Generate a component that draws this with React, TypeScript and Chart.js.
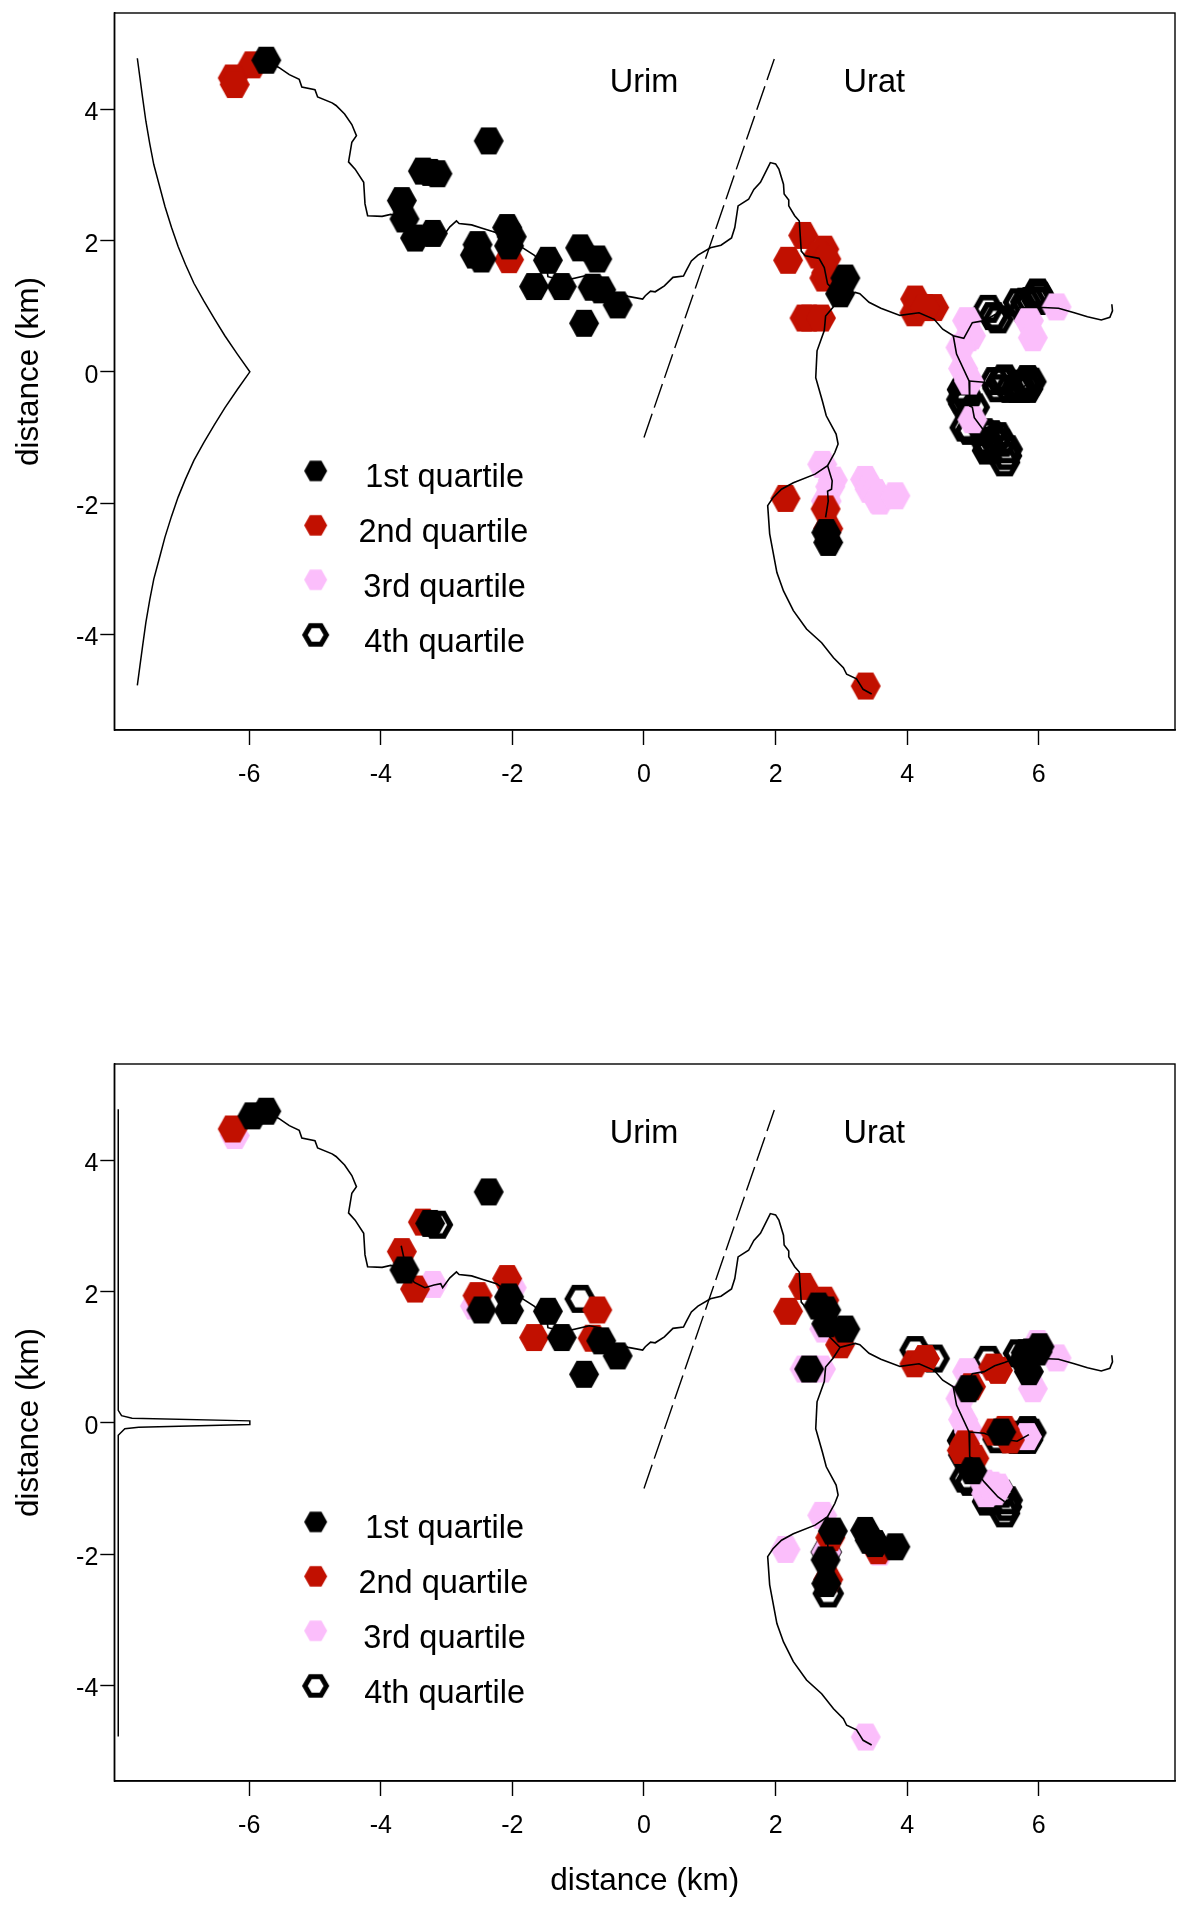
import React, { useEffect, useRef } from "react";
import { Chart, registerables } from "chart.js";

Chart.register(...registerables);

const xTicks = [-6, -4, -2, 0, 2, 4, 6];
const yTicks = [-4, -2, 0, 2, 4];
const xRange = [-8.05, 8.07];
const yRange = [-5.46, 5.47];

const legendLabels = ["1st quartile", "2nd quartile", "3rd quartile", "4th quartile"];
const legendMarkerX = [-4.99, -4.99, -4.99, -4.99];
const legendMarkerY = [-1.51, -2.34, -3.17, -4.01];
const legendTextX = [-3.03, -3.05, -3.03, -3.03];
const legendTextBaselineY = [-1.75, -2.59, -3.43, -4.27];
const regionLabels = ["Urim", "Urat"];
const regionX = [0, 3.5];
const regionY = [4.41, 4.41];
const axisTitle = "distance (km)";

// Sampling sites: position, and the quartile (1–4) at each site in the upper and lower panels
const siteX = [-5.74, -5.95, -6.25, -6.22, -2.36, -3.36, -3.25, -3.14, -3.68, -3.64, -3.48, -3.21, -2.53, -2.57, -2.47, -2.08, -2.01, -2.05, -2.05, -1.46, -1.67, -1.25, -0.97, -0.71, -0.78, -0.65, -0.40, -0.91,
  2.42, 2.74, 2.19, 2.65, 2.77, 2.74, 2.77, 3.06, 2.98, 2.44, 2.51, 2.69, 4.12, 4.41, 4.11, 4.27, 4.91, 4.93, 4.97, 4.81, 4.85, 4.94, 5.43, 5.33, 5.56, 5.74, 5.88, 5.82, 4.88, 4.84, 5.02, 4.99, 4.96, 5.28, 5.20, 5.25, 5.43, 5.52, 5.51, 5.48, 5.23, 5.31, 5.85, 5.91, 6.27, 5.98, 6.01, 5.69, 5.80, 5.77,
  2.71, 2.87, 2.83, 2.77, 2.77, 2.76, 2.15, 2.80, 2.77, 2.80, 3.36, 3.43, 3.51, 3.58, 3.56, 3.82, 3.37,
  5.48, 5.38, 5.67, 5.83, 5.83, 5.70, 4.86, 4.91, 4.83, 4.88, 5.17, 5.22, 5.33, 5.38, 5.22, 5.38, 5.88, 5.98];
const siteY = [4.75, 4.68, 4.48, 4.38, 3.52, 3.06, 3.04, 3.02, 2.61, 2.33, 2.04, 2.11, 1.94, 1.78, 1.72, 2.20, 2.06, 1.71, 1.92, 1.70, 1.30, 1.30, 1.89, 1.72, 1.29, 1.25, 1.02, 0.74,
  2.08, 1.87, 1.70, 1.78, 1.72, 1.43, 1.51, 1.43, 1.19, 0.82, 0.82, 0.82, 1.11, 0.98, 0.90, 0.98, 0.78, 0.52, 0.55, 0.37, 0.05, -0.14, -0.14, -0.14, -0.26, -0.26, -0.15, -0.21, -0.32, -0.27, -0.54, -0.73, -0.90, -0.95, -1.08, -1.14, -1.08, -1.18, -1.28, -1.38, 0.96, 0.85, 0.78, 0.52, 0.99, 1.21, 1.16, 1.06, 1.07, 0.96,
  -1.41, -1.65, -1.75, -1.97, -1.97, -2.09, -1.93, -2.39, -2.45, -2.60, -1.64, -1.79, -1.84, -1.97, -1.95, -1.89, -4.79,
  -0.10, -0.25, -0.26, -0.26, -0.11, -0.18, -0.49, -0.41, -0.42, -0.85, -0.92, -1.05, -1.05, -0.98, -1.20, 0.80, 1.08, 1.08];
const upperQuartile = [1, 2, 2, 2, 1, 1, 1, 1, 1, 1, 1, 1, 1, 1, 1, 1, 1, 2, 1, 1, 1, 1, 1, 1, 1, 1, 1, 1,
  2, 2, 2, 2, 2, 2, 2, 1, 1, 2, 2, 2, 2, 2, 2, 2, 3, 3, 3, 3, 3, 3, 4, 4, 4, 4, 4, 4, 4, 4, 4, 3, 4, 4, 4, 4, 4, 4, 4, 4, 4, 4, 3, 3, 3, 4, 4, 4, 4, 4,
  3, 3, 3, 3, 3, 2, 2, 2, 1, 1, 3, 3, 3, 3, 3, 3, 2,
  4, 4, 4, 4, 4, 4, 4, 4, 4, 4, 4, 4, 4, 4, 4, 4, 4, 4];
const lowerQuartile = [1, 1, 2, 3, 1, 2, 1, 4, 2, 1, 2, 3, 2, 3, 1, 2, 3, 1, 1, 1, 2, 1, 4, 2, 2, 1, 1, 1,
  2, 2, 2, 1, 1, 3, 1, 1, 2, 3, 1, 3, 4, 4, 2, 2, 3, 1, 2, 3, 3, 3, 1, 2, 2, 4, 4, 3, 2, 4, 2, 1, 4, 3, 3, 4, 4, 4, 4, 4, 4, 2, 1, 3, 3, 3, 1, 4, 1, 1,
  3, 1, 2, 3, 4, 1, 3, 2, 1, 4, 1, 1, 1, 3, 2, 1, 3,
  2, 4, 4, 4, 4, 4, 4, 2, 2, 4, 3, 3, 3, 3, 4, 2, 1, 1];

// Coast / river network
const riverMain: [number, number][] = [[-5.74, 4.74], [-5.55, 4.64], [-5.39, 4.53], [-5.24, 4.46], [-5.20, 4.34], [-5.00, 4.30], [-4.96, 4.19], [-4.74, 4.10], [-4.68, 4.06], [-4.55, 3.93], [-4.44, 3.77], [-4.37, 3.60], [-4.44, 3.50], [-4.49, 3.20], [-4.39, 3.09], [-4.26, 2.89], [-4.24, 2.56], [-4.20, 2.38], [-3.98, 2.37], [-3.85, 2.40], [-3.65, 2.35], [-3.49, 2.14], [-3.33, 2.06], [-3.19, 2.10], [-3.09, 2.12], [-3.06, 2.06], [-2.95, 2.21], [-2.85, 2.30], [-2.81, 2.26], [-2.62, 2.24], [-2.46, 2.19], [-2.24, 2.12], [-2.13, 2.04], [-1.95, 2.01], [-1.86, 1.90], [-1.67, 1.78], [-1.48, 1.61], [-1.46, 1.45], [-1.21, 1.39], [-0.83, 1.48], [-0.67, 1.45], [-0.45, 1.21], [-0.24, 1.15], [-0.02, 1.11], [0.02, 1.16], [0.10, 1.23], [0.17, 1.22], [0.31, 1.31], [0.44, 1.44], [0.60, 1.46], [0.64, 1.54], [0.72, 1.69], [0.82, 1.78], [1.01, 1.89], [1.17, 1.93], [1.33, 2.04], [1.38, 2.20], [1.43, 2.53], [1.59, 2.63], [1.67, 2.78], [1.77, 2.89], [1.92, 3.19], [2.00, 3.17], [2.05, 3.09], [2.12, 2.86], [2.13, 2.71], [2.20, 2.62], [2.20, 2.53], [2.29, 2.38], [2.36, 2.30], [2.39, 1.84], [2.45, 1.77], [2.66, 1.73], [2.74, 1.59], [2.79, 1.34], [2.98, 1.15], [3.21, 1.21], [3.28, 1.19], [3.42, 1.06], [3.60, 0.97], [3.89, 0.86], [4.18, 0.90], [4.41, 0.80], [4.54, 0.65], [4.70, 0.55], [4.86, 0.51], [4.99, 0.75], [5.17, 0.78], [5.33, 0.87], [5.48, 0.92], [5.64, 0.98], [6.06, 0.98], [6.30, 0.97], [6.54, 0.90], [6.74, 0.84], [6.95, 0.79], [7.08, 0.83], [7.12, 0.93], [7.11, 1.03]];
const riverWestStub: [number, number][] = [[-3.69, 2.70], [-3.65, 2.52], [-3.65, 2.35]];
const riverSouth: [number, number][] = [[2.98, 1.15], [2.87, 0.98], [2.76, 0.85], [2.74, 0.63], [2.63, 0.32], [2.61, -0.09], [2.71, -0.44], [2.77, -0.67], [2.92, -0.95], [2.95, -1.10], [2.90, -1.23], [2.79, -1.43], [2.60, -1.56], [2.27, -1.69], [2.09, -1.79], [1.96, -1.92], [1.88, -2.04], [1.91, -2.47], [2.02, -3.06], [2.12, -3.34], [2.27, -3.64], [2.47, -3.92], [2.70, -4.13], [2.88, -4.36], [3.03, -4.51], [3.08, -4.61], [3.23, -4.68], [3.33, -4.84], [3.46, -4.91]];
const riverSouthSpur: [number, number][] = [[2.79, -1.43], [2.86, -1.66], [2.85, -1.79], [2.79, -1.82], [2.80, -1.97], [2.76, -2.22]];
const riverEastSouth: [number, number][] = [[4.70, 0.55], [4.75, 0.27], [4.94, -0.14], [4.95, -0.52], [4.99, -0.54], [5.02, -0.70], [5.17, -0.90], [5.38, -1.13], [5.48, -1.20]];
const riverEastSpur: [number, number][] = [[4.94, -0.14], [5.17, -0.16], [5.38, -0.24], [5.67, -0.28], [5.85, -0.18]];
const riverBranches = [riverMain, riverWestStub, riverSouth, riverSouthSpur, riverEastSouth, riverEastSpur];

const boundary: [number, number][] = [[0, -1], [1.98, 4.77]];

const upperProfile: [number, number][] = [[-7.70, 4.78], [-7.66, 4.48], [-7.62, 4.18], [-7.57, 3.82], [-7.51, 3.47], [-7.45, 3.16], [-7.37, 2.86], [-7.28, 2.52], [-7.18, 2.20], [-7.08, 1.91], [-6.97, 1.64], [-6.84, 1.35], [-6.69, 1.08], [-6.53, 0.81], [-6.37, 0.55], [-6.18, 0.27], [-5.99, 0], [-6.18, -0.27], [-6.37, -0.55], [-6.53, -0.81], [-6.69, -1.08], [-6.84, -1.35], [-6.97, -1.64], [-7.08, -1.91], [-7.18, -2.20], [-7.28, -2.52], [-7.37, -2.86], [-7.45, -3.16], [-7.51, -3.47], [-7.57, -3.82], [-7.62, -4.18], [-7.66, -4.48], [-7.70, -4.78]];
const lowerProfile: [number, number][] = [[-7.99, 4.78], [-7.99, 0.19], [-7.94, 0.11], [-7.78, 0.07], [-5.99, 0.03], [-5.99, -0.025], [-7.68, -0.067], [-7.89, -0.09], [-7.99, -0.19], [-7.99, -4.78]];

const BLACK = "#000000";
const RED = "#C11000";
const PINK = "#FBBEFB";

function hexagon(w: number, h: number, fill: string | null, lineWidth = 0) {
  const c = document.createElement("canvas");
  c.width = Math.ceil(w) + 4;
  c.height = Math.ceil(h) + 4;
  const g = c.getContext("2d")!;
  g.translate(c.width / 2, c.height / 2);
  const inset = lineWidth / 2;
  const R = w / 2 - inset;
  const H = h / 2 - inset;
  g.beginPath();
  g.moveTo(-R, 0);
  g.lineTo(-R / 2, -H);
  g.lineTo(R / 2, -H);
  g.lineTo(R, 0);
  g.lineTo(R / 2, H);
  g.lineTo(-R / 2, H);
  g.closePath();
  if (fill) {
    g.fillStyle = fill;
    g.fill();
  } else {
    g.lineWidth = lineWidth;
    g.strokeStyle = BLACK;
    g.lineJoin = "miter";
    g.stroke();
  }
  return c;
}

const toPoints = (list: [number, number][]) => list.map(([x, y]) => ({ x, y }));

function makeChart(canvas: HTMLCanvasElement, quartile: number[], profile: [number, number][], showXTitle: boolean) {
  const big = [hexagon(30, 27, BLACK), hexagon(30, 27, RED), hexagon(30, 27, PINK), hexagon(31, 28, null, 5.5)];
  const small = [hexagon(23, 20.5, BLACK), hexagon(23, 20.5, RED), hexagon(23, 20.5, PINK), hexagon(26.5, 23.5, null, 5)];

  const quartilePoints = (q: number) =>
    siteX.map((x, i) => ({ x, y: siteY[i], q: quartile[i] })).filter((p) => p.q === q).map(({ x, y }) => ({ x, y }));

  // The hexagon image sets the marker size; a small radius keeps the layout from reserving overflow room.
  const markerDatasets = [1, 2, 3, 4].map((q) => ({
    label: legendLabels[q - 1],
    data: quartilePoints(q),
    pointStyle: big[q - 1],
    pointRadius: 1,
    showLine: false,
    order: q + 2,
  }));

  const lineStyle = { showLine: true, pointRadius: 0, borderColor: BLACK, fill: false, tension: 0, order: 1 };

  const datasets: any[] = [
    ...markerDatasets,
    ...riverBranches.map((branch, i) => ({ label: "river " + i, data: toPoints(branch), borderWidth: 1.6, ...lineStyle })),
    { label: "boundary", data: toPoints(boundary), borderWidth: 1.4, borderDash: [25, 6.5], ...lineStyle },
    { label: "profile", data: toPoints(profile), borderWidth: 1.5, ...lineStyle },
    {
      label: "legend markers",
      data: legendMarkerX.map((x, i) => ({ x, y: legendMarkerY[i] })),
      pointStyle: small,
      pointRadius: 1,
      showLine: false,
      order: 1,
    },
  ];

  const labelsPlugin = {
    id: "panelText",
    afterDraw(chart: any) {
      const { ctx, scales, chartArea } = chart;
      ctx.save();
      ctx.strokeStyle = BLACK;
      ctx.lineWidth = 1.4;
      ctx.strokeRect(chartArea.left, chartArea.top, chartArea.width, chartArea.height);
      ctx.fillStyle = BLACK;
      ctx.font = "32.5px 'Liberation Sans'";
      ctx.textAlign = "center";
      ctx.textBaseline = "alphabetic";
      legendLabels.forEach((t, i) => {
        ctx.fillText(t, scales.x.getPixelForValue(legendTextX[i]), scales.y.getPixelForValue(legendTextBaselineY[i]));
      });
      ctx.textBaseline = "middle";
      regionLabels.forEach((t, i) => {
        ctx.fillText(t, scales.x.getPixelForValue(regionX[i]), scales.y.getPixelForValue(regionY[i]));
      });
      ctx.restore();
    },
  };

  const tickFont = { family: "'Liberation Sans'", size: 25 };
  const titleFont = { family: "'Liberation Sans'", size: 31.5, lineHeight: 1.2 };

  return new Chart(canvas, {
    type: "scatter",
    data: { datasets },
    plugins: [labelsPlugin],
    options: {
      animation: false,
      responsive: false,
      layout: { padding: { left: 0, top: 13, right: 24, bottom: 0 } },
      plugins: { legend: { display: false }, tooltip: { enabled: false } },
      scales: {
        x: {
          type: "linear",
          min: xRange[0],
          max: xRange[1],
          afterBuildTicks: (axis: any) => {
            axis.ticks = xTicks.map((value) => ({ value }));
          },
          afterFit: (axis: any) => {
            axis.height = 125;
            axis.paddingLeft = 0;
            axis.paddingRight = 0;
          },
          grid: { drawOnChartArea: false, drawTicks: true, tickLength: 15, tickColor: BLACK, tickWidth: 1.4 },
          border: { display: true, color: BLACK, width: 1.4 },
          ticks: { color: BLACK, font: tickFont, padding: 15, maxRotation: 0, autoSkip: false, callback: (v: any) => String(v) },
          title: { display: showXTitle, text: axisTitle, color: BLACK, font: titleFont, padding: { top: 0, bottom: 6 } },
        },
        y: {
          type: "linear",
          min: yRange[0],
          max: yRange[1],
          afterBuildTicks: (axis: any) => {
            axis.ticks = yTicks.map((value) => ({ value }));
          },
          afterFit: (axis: any) => {
            axis.width = 114.3;
            axis.paddingTop = 0;
            axis.paddingBottom = 0;
          },
          grid: { drawOnChartArea: false, drawTicks: true, tickLength: 14, tickColor: BLACK, tickWidth: 1.4 },
          border: { display: true, color: BLACK, width: 1.4 },
          ticks: {
            color: BLACK,
            font: { ...tickFont, lineHeight: "8px" },
            padding: 2,
            autoSkip: false,
            callback: (v: any) => ["", String(v)],
          },
          title: { display: true, text: axisTitle, color: BLACK, font: titleFont, padding: { top: 10, bottom: 0 } },
        },
      },
    } as any,
  });
}

export default function App() {
  const upper = useRef<HTMLCanvasElement>(null);
  const lower = useRef<HTMLCanvasElement>(null);

  useEffect(() => {
    const a = makeChart(upper.current!, upperQuartile, upperProfile, false);
    const b = makeChart(lower.current!, lowerQuartile, lowerProfile, true);
    return () => {
      a.destroy();
      b.destroy();
    };
  }, []);

  const style = (top: number): React.CSSProperties => ({ position: "absolute", left: 0, top, display: "block" });
  return (
    <div style={{ position: "absolute", left: 0, top: 0, width: 1199, height: 1906, overflow: "hidden", background: "#fff" }}>
      <canvas ref={upper} width={1199} height={855} style={style(0)} />
      <canvas ref={lower} width={1199} height={855} style={style(1051)} />
    </div>
  );
}
